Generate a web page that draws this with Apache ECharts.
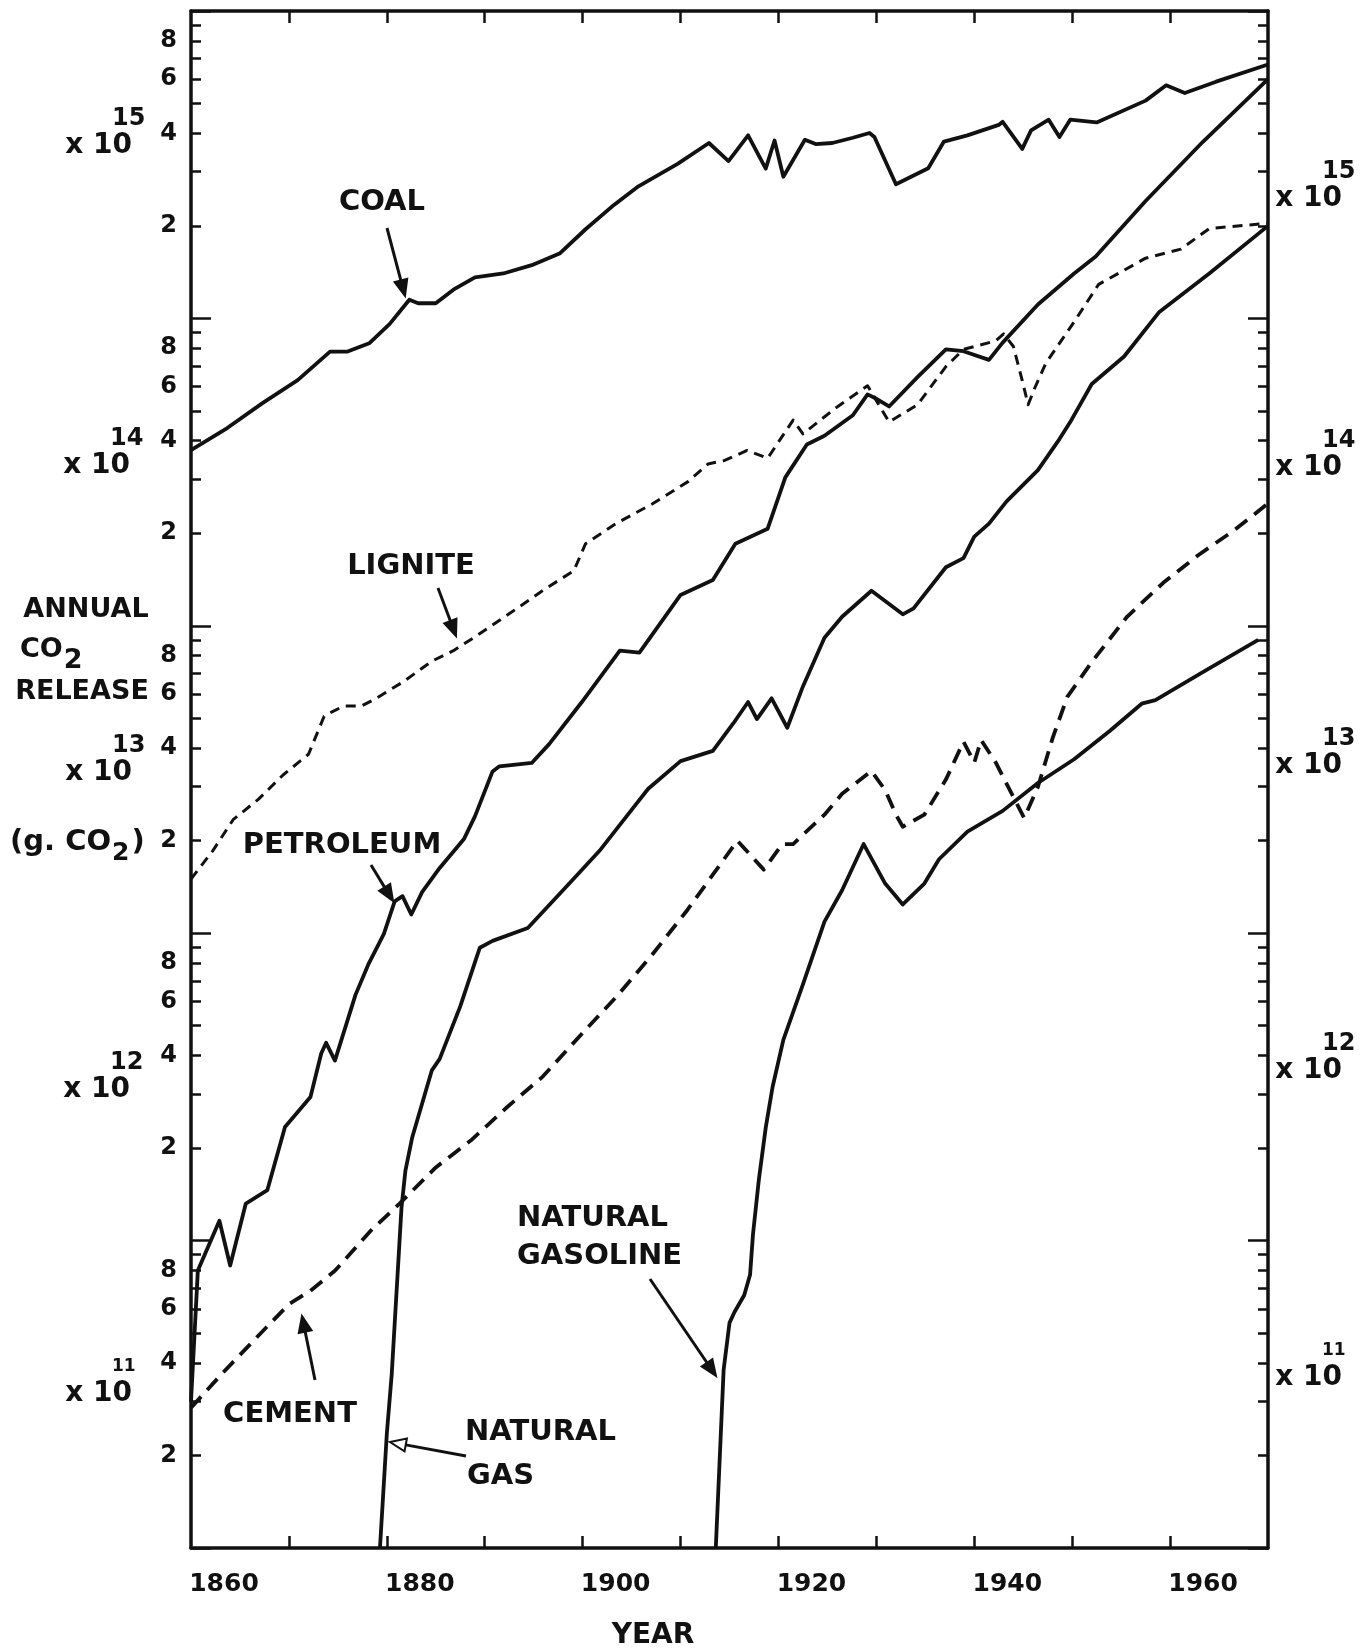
<!DOCTYPE html>
<html><head><meta charset="utf-8">
<script src="https://cdn.jsdelivr.net/npm/echarts@6/dist/echarts.min.js"></script>
<style>html,body{margin:0;padding:0;background:#fff}#c{width:1368px;height:1651px}</style>
</head><body><div id="c"></div>
<script>
// ---- data (year, annual CO2 release in g) ----
const coalYears = [1860,1863.7,1867.3,1870.9,1874.2,1876,1878.2,1880.3,1882.3,1883.2,1885,1886.8,1889,1891.9,1894.8,1897.7,1900.3,1903.2,1905.7,1909.7,1912.9,1914.9,1916.9,1918.7,1919.6,1920.5,1922.7,1923.8,1925.5,1927.6,1929.3,1929.8,1932,1935.3,1936.9,1939.3,1942.5,1942.9,1944.9,1945.8,1947.6,1948.7,1949.8,1952.5,1957.5,1959.6,1961.5,1964.7,1970];
const coalValues = [3.73e14,4.4e14,5.3e14,6.3e14,7.8e14,7.8e14,8.3e14,9.6e14,1.15e15,1.12e15,1.12e15,1.24e15,1.36e15,1.40e15,1.49e15,1.63e15,1.95e15,2.34e15,2.69e15,3.18e15,3.72e15,3.25e15,3.94e15,3.07e15,3.79e15,2.89e15,3.81e15,3.69e15,3.72e15,3.87e15,4.01e15,3.89e15,2.73e15,3.08e15,3.76e15,3.94e15,4.26e15,4.36e15,3.56e15,4.09e15,4.43e15,3.89e15,4.43e15,4.34e15,5.11e15,5.73e15,5.41e15,5.89e15,6.7e15];

const ligniteYears = [1860,1862.2,1864.3,1866.9,1869.4,1872,1873.6,1874.5,1875.6,1877.4,1878.8,1881.7,1884.6,1886.8,1889,1892.6,1896.2,1899.1,1900.3,1903.5,1907.1,1910.8,1912.8,1914.5,1916.8,1918.9,1921.5,1922.5,1925.8,1929.1,1931.3,1934.2,1937.1,1938.9,1942.2,1943,1944,1944.9,1945.5,1946.2,1947.3,1950.2,1952.7,1957.5,1961.1,1964,1970];
const ligniteValues = [1.5e13,1.85e13,2.34e13,2.73e13,3.27e13,3.82e13,5.08e13,5.27e13,5.48e13,5.48e13,5.78e13,6.58e13,7.67e13,8.3e13,9.2e13,1.10e14,1.32e14,1.51e14,1.85e14,2.16e14,2.49e14,2.95e14,3.36e14,3.45e14,3.72e14,3.51e14,4.67e14,4.21e14,5.1e14,6.04e14,4.6e14,5.24e14,6.97e14,7.93e14,8.45e14,8.9e14,8.1e14,6.28e14,5.24e14,5.96e14,7.14e14,9.75e14,1.29e15,1.57e15,1.68e15,1.96e15,2.04e15];

const petroleumYears = [1860,1860.7,1862.9,1864,1865.6,1867.8,1869.6,1872.2,1873.3,1873.8,1874.7,1876.8,1878.1,1879.7,1880.8,1881.6,1882.5,1883.6,1885.4,1887.9,1889,1890.8,1891.5,1894.8,1896.6,1899.9,1903.8,1905.8,1910,1913.3,1915.6,1918.9,1920.7,1922.9,1924.7,1927.6,1929.1,1929.8,1931.3,1934.2,1937.1,1938.9,1941.5,1942.9,1946.5,1950.2,1952.4,1957.5,1963.3,1970];
const petroleumValues = [3.0e11,8.0e11,1.16e12,8.3e11,1.32e12,1.46e12,2.34e12,2.93e12,4.06e12,4.4e12,3.85e12,6.3e12,7.9e12,9.95e12,1.27e13,1.32e13,1.15e13,1.36e13,1.63e13,2.03e13,2.40e13,3.36e13,3.49e13,3.58e13,4.13e13,5.64e13,8.3e13,8.18e13,1.26e14,1.41e14,1.85e14,2.07e14,3.04e14,3.89e14,4.15e14,4.84e14,5.66e14,5.52e14,5.17e14,6.44e14,7.93e14,7.82e14,7.33e14,8.34e14,1.11e15,1.40e15,1.59e15,2.41e15,3.74e15,6.0e15];

const naturalGasYears = [1879.3,1880,1880.5,1881.5,1881.9,1882.6,1884.6,1885.4,1887.5,1889.5,1890.8,1894.4,1898.8,1901.7,1905.3,1906.7,1910,1913.3,1915.4,1916.9,1917.8,1919.3,1920.9,1922.5,1924.7,1926.5,1929.5,1932.7,1933.8,1937.1,1938.9,1940,1941.5,1943.3,1946.5,1948.7,1949.8,1952,1955.3,1958.9,1964,1970];
const naturalGasValues = [1e11,2.35e11,3.67e11,1.28e12,1.69e12,2.17e12,3.58e12,3.9e12,5.78e12,8.97e12,9.44e12,1.04e13,1.47e13,1.85e13,2.59e13,2.95e13,3.63e13,3.92e13,4.82e13,5.65e13,4.97e13,5.81e13,4.66e13,6.35e13,9.14e13,1.07e14,1.30e14,1.09e14,1.14e14,1.55e14,1.66e14,1.95e14,2.15e14,2.54e14,3.21e14,4.05e14,4.60e14,6.12e14,7.52e14,1.05e15,1.40e15,2.0e15];

const cementYears = [1860,1863.1,1866.7,1870,1872.2,1874.7,1878.4,1881.3,1885,1888.6,1892.3,1895.9,1899.9,1903.5,1907.1,1910.7,1913.3,1915.8,1918.5,1920.4,1921.5,1924.7,1926.5,1929.5,1930.9,1932,1932.7,1934.9,1937.1,1938.9,1940,1940.7,1942.2,1944,1945.1,1946.5,1948,1949.5,1952,1955.6,1959.3,1962.9,1966.5,1970];
const cementValues = [2.86e11,3.67e11,4.84e11,6.21e11,6.87e11,7.98e11,1.08e12,1.32e12,1.73e12,2.12e12,2.72e12,3.41e12,4.7e12,6.24e12,8.51e12,1.19e13,1.55e13,2.0e13,1.61e13,1.95e13,1.95e13,2.43e13,2.84e13,3.37e13,2.92e13,2.43e13,2.22e13,2.43e13,3.16e13,4.20e13,3.59e13,4.25e13,3.59e13,2.77e13,2.37e13,2.99e13,4.31e13,5.87e13,7.62e13,1.07e14,1.38e14,1.70e14,2.04e14,2.5e14];

const gasolineYears = [1913.6,1914.4,1915,1915.5,1916.5,1917.1,1917.4,1918,1918.7,1919.4,1920.5,1922.5,1924.7,1926.5,1928.7,1930.9,1932.7,1934.9,1936.4,1939.3,1942.9,1946.5,1950.2,1953.8,1957.1,1958.5,1963.3,1969];
const gasolineValues = [1e11,3.8e11,5.4e11,5.85e11,6.64e11,7.74e11,1.05e12,1.58e12,2.33e12,3.16e12,4.5e12,6.82e12,1.09e13,1.38e13,1.95e13,1.45e13,1.24e13,1.45e13,1.74e13,2.14e13,2.50e13,3.08e13,3.68e13,4.54e13,5.58e13,5.73e13,7.05e13,9.0e13];

// ---- axis ticks / labels ----
const xTickYears = [1870,1880,1890,1900,1910,1920,1930,1940,1950,1960];
const xLabelYears = [1860,1880,1900,1920,1940,1960];
const decadeExponents = [11,12,13,14,15,16];
const minorMantissas = [2,3,4,5,6,7,8,9];
const labelMantissas = [2,4,6,8];

const decadeTicks = decadeExponents.map(e => Math.pow(10, e));
const minorTicks = [];
const labelTicks = [];
decadeExponents.slice(0, -1).forEach(e => {
  minorMantissas.forEach(m => minorTicks.push(m * Math.pow(10, e)));
  labelMantissas.forEach(m => labelTicks.push(m * Math.pow(10, e)));
});

const FONT = '"DejaVu Sans", "Liberation Sans", sans-serif';
const INK = '#111';
const pairs = (xs, ys) => xs.map((x, i) => [x, ys[i]]);

const chart = echarts.init(document.getElementById('c'), null, {renderer: 'canvas'});

const frameLine = {show: true, onZero: false, lineStyle: {color: INK, width: 3.5}};
function xAx(pos, withLabels) {
  return {
    type: 'value', position: pos, min: 1860, max: 1970,
    axisLine: frameLine,
    axisTick: {show: true, inside: true, length: 12, customValues: xTickYears, lineStyle: {color: INK, width: 2.5}},
    axisLabel: withLabels ? {
      show: true, customValues: xLabelYears, formatter: v => String(Math.round(v)),
      fontFamily: FONT, fontSize: 25, fontWeight: 'bold', color: INK, margin: 24, padding: [0, 0, 0, 66]
    } : {show: false},
    splitLine: {show: false}
  };
}
function yAx(pos, ticks, len, labels, line) {
  return {
    type: 'log', logBase: 10, position: pos, min: 1e11, max: 1e16,
    axisLine: line ? frameLine : {show: false},
    axisTick: {show: true, inside: true, length: len, customValues: ticks, lineStyle: {color: INK, width: 2.5}},
    axisLabel: labels ? {
      show: true, customValues: labelTicks,
      formatter: v => String(Math.round(v / Math.pow(10, Math.floor(Math.log10(v) + 1e-9)))),
      fontFamily: FONT, fontSize: 24, fontWeight: 'bold', color: INK, margin: 14
    } : {show: false},
    splitLine: {show: false}, minorTick: {show: false}, minorSplitLine: {show: false}
  };
}
function lineSeries(name, xs, ys, width, dash) {
  return {
    name, type: 'line', xAxisIndex: 0, yAxisIndex: 0, data: pairs(xs, ys),
    showSymbol: false, symbol: 'none', smooth: false, clip: true, animation: false,
    lineStyle: {color: INK, width, type: dash || 'solid', cap: 'butt', join: 'round'}
  };
}

chart.setOption({
  backgroundColor: '#fff',
  animation: false,
  grid: {left: 191, right: 100, top: 11, bottom: 103, containLabel: false, outerBoundsMode: 'none'},
  xAxis: [xAx('bottom', true), xAx('top', false)],
  yAxis: [
    yAx('left', decadeTicks, 20, true, true),
    yAx('left', minorTicks, 10, false, false),
    yAx('right', decadeTicks, 20, false, true),
    yAx('right', minorTicks, 10, false, false)
  ],
  series: [
    lineSeries('Coal', coalYears, coalValues, 3.8),
    lineSeries('Lignite', ligniteYears, ligniteValues, 3, [10, 7]),
    lineSeries('Petroleum', petroleumYears, petroleumValues, 3.8),
    lineSeries('Natural gas', naturalGasYears, naturalGasValues, 3.8),
    lineSeries('Cement', cementYears, cementValues, 3.8, [15, 9]),
    lineSeries('Natural gasoline', gasolineYears, gasolineValues, 3.8)
  ]
});

// ---- annotations (text + arrows) ----
const mctx = document.createElement('canvas').getContext('2d');
function fontStr(size) { return `bold ${size}px ${FONT}`; }
function measure(t, size) { mctx.font = fontStr(size); return mctx.measureText(t).width; }
function txt(t, x, y, size, align) {
  return {type: 'text', x, y, z: 100, silent: true,
    style: {text: t, font: fontStr(size), fill: INK, align: align || 'center', verticalAlign: 'middle'}};
}
function arrow(x1, y1, x2, y2, open) {
  const a = Math.atan2(y2 - y1, x2 - x1), L = 16, W = 6.5;
  const bx = x2 - L * Math.cos(a), by = y2 - L * Math.sin(a);
  const px = -Math.sin(a) * W, py = Math.cos(a) * W;
  return [
    {type: 'line', z: 100, silent: true, shape: {x1, y1, x2: bx, y2: by}, style: {stroke: INK, lineWidth: 3}},
    {type: 'polygon', z: 100, silent: true, shape: {points: [[x2, y2], [bx + px, by + py], [bx - px, by - py]]},
      style: {fill: open ? '#fff' : INK, stroke: INK, lineWidth: 2}}
  ];
}
// "x 10" + superscript exponent; xRight is the right edge of "x 10"
function times10(xRight, y, exp, size, expSize) {
  const es = expSize || 24;
  return [txt('x 10', xRight, y, size, 'right'), txt(exp, xRight - 20, y - 27, es, 'left')];
}
// base text + subscript
function withSub(base, sub, tail, xLeft, y, size, subSize) {
  const w = measure(base, size);
  const out = [txt(base, xLeft, y, size, 'left'), txt(sub, xLeft + w + 1, y + 11, subSize, 'left')];
  if (tail) out.push(txt(tail, xLeft + w + measure(sub, subSize) + 3, y, size, 'left'));
  return out;
}

const g = [];
g.push(txt('COAL', 382, 202, 29));
g.push(...arrow(387, 228, 405, 296));
g.push(txt('LIGNITE', 411, 566, 29));
g.push(...arrow(438, 588, 456, 636));
g.push(txt('PETROLEUM', 342, 845, 29));
g.push(...arrow(371, 865, 393, 901));
g.push(txt('CEMENT', 290, 1414, 29));
g.push(...arrow(315, 1380, 302, 1316));
g.push(txt('NATURAL', 465, 1432, 29, 'left'));
g.push(txt('GAS', 467, 1476, 29, 'left'));
g.push(...arrow(466, 1456, 390, 1442, true));
g.push(txt('NATURAL', 517, 1218, 29, 'left'));
g.push(txt('GASOLINE', 517, 1256, 29, 'left'));
g.push(...arrow(650, 1279, 716, 1376));

// left side texts
g.push(...times10(132, 146, '15', 28));
g.push(...times10(130, 466, '14', 28));
g.push(txt('ANNUAL', 86, 610, 27));
g.push(...withSub('CO', '2', null, 20, 650, 27, 27));
g.push(txt('RELEASE', 82, 692, 27));
g.push(...times10(132, 773, '13', 28));
g.push(...withSub('(g. CO', '2', ')', 10, 842, 29, 25));
g.push(...times10(130, 1090, '12', 28));
g.push(...times10(132, 1394, '11', 28, 17));
// right side texts
g.push(...times10(1342, 199, '15', 28));
g.push(...times10(1342, 468, '14', 28));
g.push(...times10(1342, 766, '13', 28));
g.push(...times10(1342, 1071, '12', 28));
g.push(...times10(1342, 1378, '11', 28, 17));
// x axis title
g.push(txt('YEAR', 653, 1636, 28));

chart.setOption({graphic: {elements: g}});
</script>
</body></html>
